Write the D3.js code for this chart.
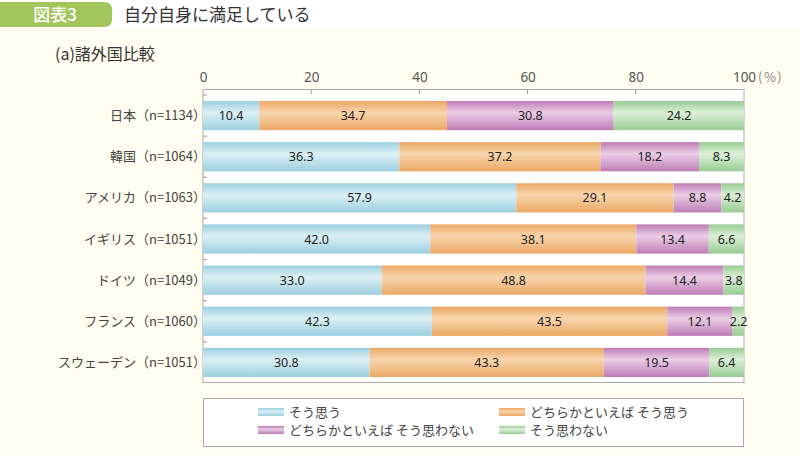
<!DOCTYPE html>
<html><head><meta charset="utf-8">
<script src="https://cdn.jsdelivr.net/npm/d3@7"></script>
<style>html,body{margin:0;padding:0;background:#fff;}svg{display:block;font-family:"Noto Sans CJK JP","Noto Sans",sans-serif;}</style>
</head><body><svg id="c" width="800" height="456"></svg>
<script>
const categories = ["日本（n=1134）","韓国（n=1064）","アメリカ（n=1063）","イギリス（n=1051）","ドイツ（n=1049）","フランス（n=1060）","スウェーデン（n=1051）"];
const seriesNames = ["そう思う","どちらかといえば そう思う","どちらかといえば そう思わない","そう思わない"];
const s1 = [10.4,36.3,57.9,42.0,33.0,42.3,30.8];
const s2 = [34.7,37.2,29.1,38.1,48.8,43.5,43.3];
const s3 = [30.8,18.2,8.8,13.4,14.4,12.1,19.5];
const s4 = [24.2,8.3,4.2,6.6,3.8,2.2,6.4];
const xTicks = [0,20,40,60,80,100];

const series = [s1,s2,s3,s4];
const colors = [["#9ccfdf","#dcf0f5"],["#eba865","#f8d6ae"],["#bd7db5","#ebcde6"],["#98cc94","#dcf0d8"]];

const svg = d3.select("#c");
svg.append("rect").attr("x",0).attr("y",29).attr("width",800).attr("height",427).attr("fill","#fffdef");

// header
svg.append("path").attr("d","M0,2 H104 Q112,2 112,10 V19 Q112,27 104,27 H0 Z").attr("fill","#a3c65c");
svg.append("text").attr("x",55).attr("y",21).attr("text-anchor","middle").attr("fill","#fff").attr("font-size",17).attr("font-weight","500").text("図表3");
svg.append("text").attr("x",124).attr("y",21).attr("fill","#333").attr("font-size",17).text("自分自身に満足している");
svg.append("text").attr("x",55).attr("y",60).attr("fill","#333").attr("font-size",16).text("(a)諸外国比較");

const defs = svg.append("defs");
colors.forEach((c,i)=>{
  const g = defs.append("linearGradient").attr("id","g"+i).attr("x1",0).attr("y1",0).attr("x2",0).attr("y2",1);
  g.append("stop").attr("offset","0%").attr("stop-color",c[0]);
  g.append("stop").attr("offset","40%").attr("stop-color",c[1]);
  g.append("stop").attr("offset","100%").attr("stop-color",c[0]);
});

const x = d3.scaleLinear().domain([0,100]).range([203,744]);
const y = d3.scaleBand().domain(categories).range([95,383]).paddingInner(0.29).paddingOuter(0.145);

// plot area
svg.append("rect").attr("x",203).attr("y",89.5).attr("width",541).attr("height",293).attr("fill","#fff").attr("stroke","#aaa").attr("stroke-width",1);

// x ticks
const xAxis = d3.axisTop(x).tickValues(xTicks).tickSize(0).tickPadding(8);
const ga = svg.append("g").attr("transform","translate(0,89.5)").call(xAxis);
ga.select(".domain").remove();
ga.selectAll("text").attr("font-size",13.5).attr("fill","#555").attr("font-family","'Noto Sans',sans-serif");
svg.append("text").attr("x",758).attr("y",82).attr("font-size",13).attr("fill","#888").attr("letter-spacing",1.5).text("(%)");
svg.selectAll(".xt").data(xTicks.slice(1,-1)).enter().append("line")
  .attr("x1",d=>x(d)).attr("x2",d=>x(d)).attr("y1",89.5).attr("y2",94).attr("stroke","#999");

// y ticks at band boundaries
const step = y.step();
const bnd = d3.range(categories.length).map(i=>y.range()[0]+i*step);
svg.selectAll(".yt").data(bnd).enter().append("line")
  .attr("x1",203).attr("x2",207).attr("y1",d=>d).attr("y2",d=>d).attr("stroke","#999");

// category labels
svg.selectAll(".cl").data(categories).enter().append("text")
  .attr("x",206).attr("y",d=>y(d)+y.bandwidth()/2+4.5).attr("text-anchor","end")
  .attr("font-size",13).attr("fill","#444").text(d=>d);

// bars
categories.forEach((c,ci)=>{
  let cum = 0;
  series.forEach((s,si)=>{
    const v = s[ci];
    const x0 = x(cum), x1 = x(Math.min(cum+v,100));
    svg.append("rect").attr("x",x0).attr("y",y(c)).attr("width",Math.max(0,x1-x0)).attr("height",y.bandwidth()).attr("fill","url(#g"+si+")");
    svg.append("text").attr("x",(x0+x(cum+v))/2).attr("y",y(c)+y.bandwidth()/2+4.5).attr("text-anchor","middle")
      .attr("font-size",12.5).attr("fill","#222").attr("font-family","'Noto Sans',sans-serif").text(v.toFixed(1));
    cum += v;
  });
});

// legend
svg.append("rect").attr("x",203.5).attr("y",398.5).attr("width",540).attr("height",48).attr("fill","#fff").attr("stroke","#aaa");
const lpos = [[258,412],[499,412],[258,430],[499,430]];
seriesNames.forEach((n,i)=>{
  const [lx,ly] = lpos[i];
  svg.append("rect").attr("x",lx).attr("y",ly-4).attr("width",26).attr("height",8).attr("fill","url(#g"+i+")");
  svg.append("text").attr("x",lx+31).attr("y",ly+4.5).attr("font-size",13).attr("fill","#444").text(n);
});
</script></body></html>
